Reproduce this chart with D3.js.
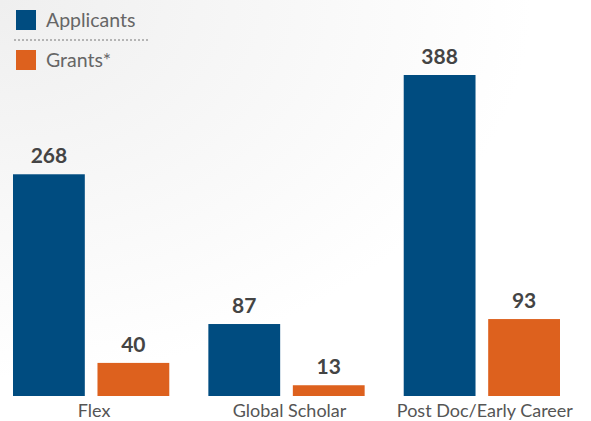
<!DOCTYPE html>
<html>
<head>
<meta charset="utf-8">
<script src="https://cdn.jsdelivr.net/npm/d3@7"></script>
<style>
  body { margin: 0; background: #fff; }
  svg { display: block; font-family: Lato, "Open Sans", sans-serif; }
</style>
</head>
<body>
<svg width="591" height="421"></svg>
<script>
const categories = ['Flex', 'Global Scholar', 'Post Doc/Early Career'];
const applicants = [268, 87, 388];
const grants = [40, 13, 93];
const seriesNames = ['Applicants', 'Grants*'];
const colors = ['#004c80', '#dd611e'];

const data = categories.map((c, i) => ({ name: c, values: [applicants[i], grants[i]] }));

const svg = d3.select('svg');
const width = 591, height = 421;
const margin = { left: 13, right: 31, baseline: 396 };

// faint background wash in the top-left corner
const defs = svg.append('defs');
const grad = defs.append('radialGradient').attr('id', 'bg')
  .attr('cx', '0').attr('cy', '0').attr('r', '0.9');
grad.append('stop').attr('offset', '0%').attr('stop-color', '#efefef');
grad.append('stop').attr('offset', '100%').attr('stop-color', '#ffffff');
svg.append('rect').attr('width', width).attr('height', height).attr('fill', 'url(#bg)');

const x0 = d3.scaleBand()
  .domain(categories)
  .range([margin.left, width - margin.right])
  .paddingInner(0.2)
  .paddingOuter(0);
const x = d3.scaleBand().domain([0, 1]).range([0, x0.bandwidth()]).paddingInner(0.15);
const y = d3.scaleLinear().domain([0, 388]).range([margin.baseline, 75]);

const g = svg.append('g');
const groups = g.selectAll('g.grp').data(data).enter().append('g')
  .attr('transform', d => 'translate(' + x0(d.name) + ',0)');

groups.selectAll('rect')
  .data(d => d.values.map((v, i) => ({ i, v })))
  .enter().append('rect')
  .attr('x', d => x(d.i))
  .attr('y', d => y(d.v))
  .attr('width', x.bandwidth())
  .attr('height', d => margin.baseline - y(d.v))
  .attr('fill', d => colors[d.i]);

groups.selectAll('text.val')
  .data(d => d.values.map((v, i) => ({ i, v })))
  .enter().append('text')
  .attr('class', 'val')
  .attr('x', d => x(d.i) + x.bandwidth() / 2)
  .attr('y', d => y(d.v) - 11)
  .attr('text-anchor', 'middle')
  .attr('font-size', 21)
  .attr('font-weight', 'bold')
  .attr('fill', '#444')
  .text(d => d.v);

groups.append('text')
  .attr('x', x0.bandwidth() / 2 + 3)
  .attr('y', 417)
  .attr('text-anchor', 'middle')
  .attr('font-size', 18)
  .attr('fill', '#555')
  .text(d => d.name);

// legend
const legend = svg.append('g').selectAll('g').data(seriesNames).enter().append('g')
  .attr('transform', (d, i) => 'translate(16,' + (10 + i * 40) + ')');
legend.append('rect').attr('width', 20).attr('height', 20).attr('fill', (d, i) => colors[i]);
legend.append('text').attr('x', 30).attr('y', 17)
  .attr('font-size', 19.5).attr('fill', '#666').text(d => d);
svg.append('line')
  .attr('x1', 14).attr('x2', 150).attr('y1', 40).attr('y2', 40)
  .attr('stroke', '#777').attr('stroke-width', 1).attr('stroke-dasharray', '2,2');
</script>
</body>
</html>
